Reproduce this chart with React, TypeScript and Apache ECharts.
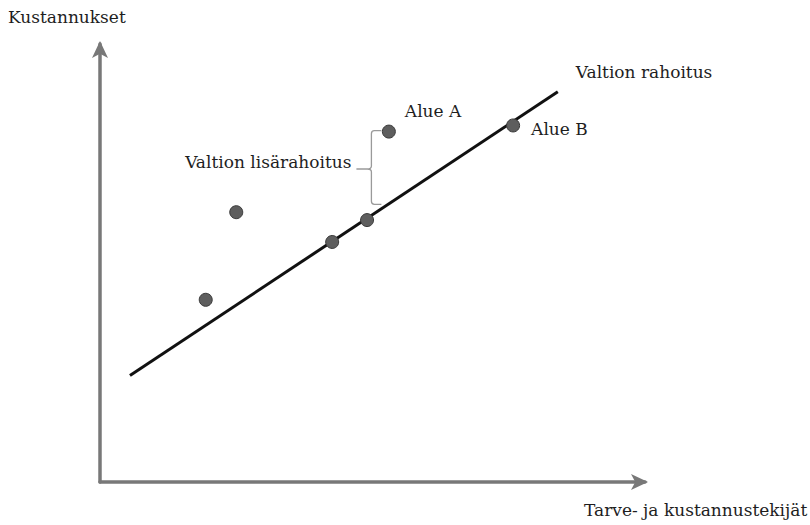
import React, { useEffect, useRef } from "react";
import * as echarts from "echarts";

const pointsX = [19.4, 25.0, 42.6, 49.0, 53.0, 75.8];
const pointsY = [41.6, 61.6, 54.8, 59.8, 80.0, 81.4];
const pointLabels = ["", "", "", "", "Alue A", "Alue B"];
const lineX = [5.5, 84.0];
const lineY = [24.3, 89.1];
const lineName = "Valtion rahoitus";
const braceX = 49.8;
const braceTop = 80.2;
const braceBottom = 63.4;
const braceLabel = "Valtion lisärahoitus";
const yTitle = "Kustannukset";
const xTitle = "Tarve- ja kustannustekijät";

const FONT = "DejaVu Serif";
const FS = 17;

export default function App() {
  const ref = useRef<HTMLDivElement>(null);
  useEffect(() => {
    const chart = echarts.init(ref.current!, null, { renderer: "svg" });
    const scatterData = pointsX.map((x, i) => ({
      value: [x, pointsY[i]],
      label: {
        show: pointLabels[i] !== "",
        formatter: pointLabels[i],
        position: i === 4 ? [23, -22] : [25, 2],
      },
    }));
    chart.setOption({
      animation: false,
      backgroundColor: "#ffffff",
      textStyle: { fontFamily: FONT },
      grid: { left: 100, right: 165, top: 44, bottom: 43 },
      xAxis: {
        type: "value",
        min: 0,
        max: 100,
        axisLine: {
          show: true,
          symbol: ["none", "arrow"],
          symbolSize: [12, 17],
          symbolOffset: [0, 3],
          lineStyle: { color: "#787878", width: 3.5 },
        },
        axisTick: { show: false },
        axisLabel: { show: false },
        splitLine: { show: false },
      },
      yAxis: {
        type: "value",
        min: 0,
        max: 100,
        axisLine: {
          show: true,
          symbol: ["none", "arrow"],
          symbolSize: [12, 17],
          symbolOffset: [0, 3],
          lineStyle: { color: "#787878", width: 3.5 },
        },
        axisTick: { show: false },
        axisLabel: { show: false },
        splitLine: { show: false },
      },
      graphic: [
        {
          type: "text",
          left: 8,
          top: 8,
          style: { text: yTitle, font: `${FS}px "${FONT}"`, fill: "#1e1e1e" },
        },
        {
          type: "text",
          left: 584,
          top: 501,
          style: { text: xTitle, font: `${FS}px "${FONT}"`, fill: "#1e1e1e" },
        },
      ],
      series: [
        {
          type: "line",
          data: lineX.map((x, i) => [x, lineY[i]]),
          symbol: "none",
          lineStyle: { color: "#111", width: 3 },
          endLabel: {
            show: true,
            formatter: lineName,
            fontFamily: FONT,
            fontSize: FS,
            color: "#1e1e1e",
            offset: [10, -20],
          },
          z: 2,
        },
        {
          type: "custom",
          data: [[braceX, braceTop, braceBottom]],
          renderItem: (params: any, api: any) => {
            const top = api.coord([api.value(0), api.value(1)]);
            const bot = api.coord([api.value(0), api.value(2)]);
            const x = top[0];
            const t = top[1];
            const b = bot[1];
            const m = t + (b - t) * 0.52;
            const d = `M ${x + 10} ${t} L ${x + 3} ${t} Q ${x} ${t} ${x} ${t + 3} L ${x} ${m - 3} Q ${x} ${m} ${x - 4} ${m} L ${x - 15} ${m} M ${x - 4} ${m} Q ${x} ${m} ${x} ${m + 3} L ${x} ${b - 3} Q ${x} ${b} ${x + 3} ${b} L ${x + 10} ${b}`;
            return {
              type: "group",
              children: [
                {
                  type: "path",
                  shape: { pathData: d },
                  style: { stroke: "#9a9a9a", lineWidth: 1.3, fill: "none" },
                },
                {
                  type: "text",
                  style: {
                    text: braceLabel,
                    x: x - 20,
                    y: m - 7,
                    align: "right",
                    verticalAlign: "middle",
                    font: `${FS}px "${FONT}"`,
                    fill: "#1e1e1e",
                  },
                },
              ],
            };
          },
          z: 1,
        },
        {
          type: "scatter",
          data: scatterData,
          symbolSize: 13,
          itemStyle: {
            color: "#5e5e5e",
            borderColor: "#3a3a3a",
            borderWidth: 1,
            opacity: 1,
          },
          label: {
            color: "#1e1e1e",
            fontFamily: FONT,
            fontSize: FS,
            textBorderWidth: 0,
          },
          z: 3,
        },
      ],
    });
    return () => chart.dispose();
  }, []);
  return (
    <div
      ref={ref}
      style={{ position: "absolute", left: 0, top: 0, width: 810, height: 525 }}
    />
  );
}
